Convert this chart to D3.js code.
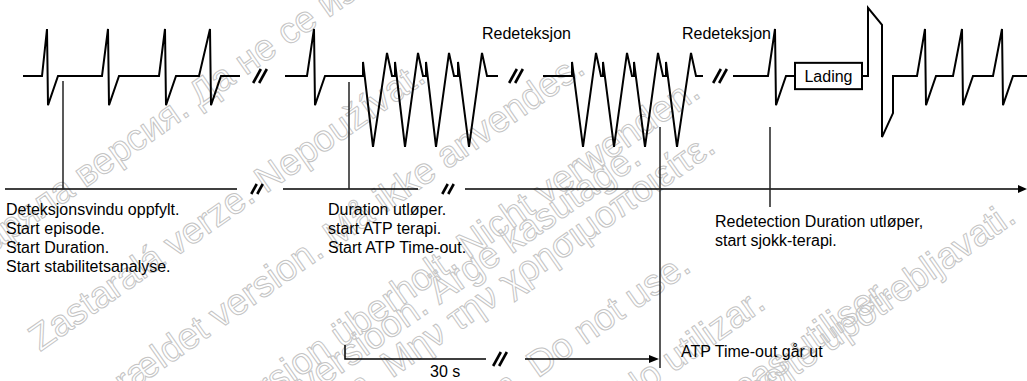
<!DOCTYPE html>
<html><head><meta charset="utf-8">
<script src="https://cdn.jsdelivr.net/npm/d3@7"></script>
<style>html,body{margin:0;padding:0;background:#fff;}svg{display:block;font-family:"Liberation Sans",Arial,sans-serif;}</style>
</head><body>
<script>
// ---------- data ----------
const seg1Onsets = [42, 102, 159, 199];
const seg1Peaks  = [47, 108, 165, 210];
const seg1Range  = [23, 240];
const seg2Onsets = [307];
const seg2Peaks  = [314];
const seg2Range  = [285, 363];
const tachy1Ticks   = [363, 395, 426, 458];
const tachy1Troughs = [373, 405, 436, 469];
const tachy1Peaks   = [387, 418, 449, 482];
const tachy1End     = 498;
const seg3Start     = 543;
const tachy2Ticks   = [572, 603, 634, 666];
const tachy2Troughs = [583, 614, 645, 677];
const tachy2Peaks   = [596, 627, 658, 691];
const tachy2End     = 703;
const seg4Onsets = [768];
const seg4Peaks  = [775];
const seg4Start  = 733;
const chargeBox  = [795, 862];
const shockTimes = [868, 882, 893];
const postOnsets = [917, 953, 993];
const postPeaks  = [925, 962, 1002];
const traceEnd   = 1027;
const amp = {rPeak: 1, sWave: -0.62, vtPeak: 0.49, vtTick: 0.30, vtTrough: -1.51,
             shockTop: 1.45, shockShoulder: 1.09, shockBottom: -1.30, shockRecover: -0.79};
const breaksTop = [260, 516, 720];
const breaksAxis = [257, 448];
const axisSegments = [[5, 237], [283, 418], [465, 1027]];
const markerTimes = [63, 349, 660, 770];
const markerTops  = [81, 82, 127, 127];
const markerEnds  = [189, 189, 368, 207];
const redetectLabels = [["Redeteksjon", 482], ["Redeteksjon", 682]];
const noteBlocks = [
  {x: 6,   lines: ["Deteksjonsvindu oppfylt.", "Start episode.", "Start Duration.", "Start stabilitetsanalyse."]},
  {x: 328, lines: ["Duration utløper.", "start ATP terapi.", "Start ATP Time-out."]},
  {x: 715, lines: ["Redetection Duration utløper,", "start sjokk-terapi."], dy: 12}
];
const timeoutBracket = {start: 345, breakAt: 500, arrowFrom: 525, end: 659, label: "30 s", note: "ATP Time-out går ut"};
const watermarks = [
  ["Остаряла версия. Да не се използва.", -60, 290],
  ["Zastaralá verze. Nepoužívat.", 40, 352],
  ["Forældet version. Må ikke anvendes.", 90, 420],
  ["Version überholt. Nicht verwenden.", 232, 425],
  ["Aegunud versioon. Ärge kasutage.", 178, 488],
  ["Παλιά έκδοση. Μην την χρησιμοποιείτε.", 190, 520],
  ["Outdated version. Do not use.", 290, 552],
  ["Versión obsoleta. No utilizar.", 385, 575],
  ["Version périmée. Ne pas utiliser.", 460, 600],
  ["Zastarjela verzija. Nemojte upotrebljavati.", 462, 610]
];

// ---------- scales ----------
const W = 1027, H = 381;
const x = d3.scaleLinear().domain([0, 1027]).range([0, 1027]);
const y = d3.scaleLinear().domain([-1, 1]).range([123, 29]);   // baseline (0) at 76
const yAxis = 189, yBracket = 359;

const svg = d3.select("body").append("svg").attr("width", W).attr("height", H);

// watermark (outlined light grey text)
const wm = svg.append("g").attr("fill", "none").attr("stroke", "#c4c4c4").attr("stroke-width", 1)
  .style("font-size", "37px");
watermarks.forEach(([t, wx, wy]) => {
  wm.append("text").attr("transform", `translate(${wx},${wy}) rotate(-35)`).text(t);
});

// ---------- waveform ----------
function beats(pts, onsets, peaks) {
  onsets.forEach((o, i) => {
    const p = peaks[i];
    pts.push([o, 0], [p, amp.rPeak], [p + 1, amp.sWave], [p + 11, 0]);
  });
}
function tachy(pts, ticks, troughs, peaks, end) {
  ticks.forEach((t, i) => {
    pts.push([t, 0], [t, amp.vtTick], [troughs[i], amp.vtTrough], [peaks[i], amp.vtPeak], [peaks[i] + 5, 0]);
  });
  pts.push([end, 0]);
}
const line = d3.line().x(d => x(d[0])).y(d => y(d[1]));
const traces = [];
{ const p = [[seg1Range[0], 0]]; beats(p, seg1Onsets, seg1Peaks); p.push([seg1Range[1], 0]); traces.push(p); }
{ const p = [[seg2Range[0], 0]]; beats(p, seg2Onsets, seg2Peaks); tachy(p, tachy1Ticks, tachy1Troughs, tachy1Peaks, tachy1End); traces.push(p); }
{ const p = [[seg3Start, 0]]; tachy(p, tachy2Ticks, tachy2Troughs, tachy2Peaks, tachy2End); traces.push(p); }
{ const p = [[seg4Start, 0]]; beats(p, seg4Onsets, seg4Peaks); p.push([chargeBox[0], 0]); traces.push(p); }
{ const p = [[chargeBox[1], 0], [shockTimes[0], 0], [shockTimes[0], amp.shockTop], [shockTimes[1], amp.shockShoulder],
             [shockTimes[1], amp.shockBottom], [shockTimes[2], amp.shockRecover], [shockTimes[2], 0]];
  beats(p, postOnsets, postPeaks); p.push([traceEnd, 0]); traces.push(p); }

svg.append("g").selectAll("path").data(traces).join("path")
  .attr("d", line).attr("fill", "none").attr("stroke", "#000").attr("stroke-width", 2).attr("stroke-linejoin", "miter");

// charge box
svg.append("rect").attr("x", x(chargeBox[0])).attr("y", y(0.28)).attr("width", x(chargeBox[1]) - x(chargeBox[0]))
  .attr("height", y(-0.28) - y(0.28)).attr("fill", "#fff").attr("stroke", "#000").attr("stroke-width", 2);
svg.append("text").attr("x", x((chargeBox[0] + chargeBox[1]) / 2)).attr("y", y(0) + 6).attr("text-anchor", "middle")
  .style("font-size", "16px").text("Lading");

// break marks
function brk(cx, cy, h) {
  const g = svg.append("g").attr("stroke", "#000").attr("stroke-width", 2.6);
  [-3, 3].forEach(dx => g.append("line").attr("x1", cx + dx - h * 0.55).attr("y1", cy + h).attr("x2", cx + dx + h * 0.55).attr("y2", cy - h));
}
breaksTop.forEach(b => brk(x(b), y(0), 7));

// redetection labels
svg.selectAll(".rd").data(redetectLabels).join("text").attr("x", d => x(d[1])).attr("y", 39)
  .style("font-size", "16px").text(d => d[0]);

// time axis
svg.append("g").selectAll("line").data(axisSegments).join("line")
  .attr("x1", d => x(d[0])).attr("x2", (d, i) => i === axisSegments.length - 1 ? x(d[1]) - 6 : x(d[1]))
  .attr("y1", yAxis).attr("y2", yAxis).attr("stroke", "#000").attr("stroke-width", 1.6);
svg.append("path").attr("d", `M${x(1027)},${yAxis} L${x(1027) - 9},${yAxis - 4} L${x(1027) - 9},${yAxis + 4} Z`).attr("fill", "#000");
breaksAxis.forEach(b => brk(x(b), yAxis, 5));

// marker lines
svg.append("g").selectAll("line").data(markerTimes).join("line")
  .attr("x1", d => x(d)).attr("x2", d => x(d)).attr("y1", (d, i) => markerTops[i]).attr("y2", (d, i) => markerEnds[i])
  .attr("stroke", "#222").attr("stroke-width", 1.5);

// notes
noteBlocks.forEach(b => {
  const t = svg.append("text").attr("x", b.x).attr("y", 215 + (b.dy || 0)).style("font-size", "16px");
  b.lines.forEach((l, i) => t.append("tspan").attr("x", b.x).attr("dy", i ? 19 : 0).text(l));
});

// timeout bracket
const tb = timeoutBracket;
svg.append("path").attr("d", `M${x(tb.start)},${yBracket - 14} L${x(tb.start)},${yBracket} L${x(tb.breakAt - 14)},${yBracket}`)
  .attr("fill", "none").attr("stroke", "#000").attr("stroke-width", 1.5);
svg.append("line").attr("x1", x(tb.arrowFrom)).attr("x2", x(tb.end) - 8).attr("y1", yBracket).attr("y2", yBracket)
  .attr("stroke", "#000").attr("stroke-width", 1.5);
svg.append("path").attr("d", `M${x(tb.end)},${yBracket} L${x(tb.end) - 10},${yBracket - 4} L${x(tb.end) - 10},${yBracket + 4} Z`).attr("fill", "#000");
brk(x(tb.breakAt), yBracket, 7);
svg.append("text").attr("x", x(430)).attr("y", 377).style("font-size", "16px").text(tb.label);
svg.append("text").attr("x", x(681)).attr("y", 357).style("font-size", "16px").text(tb.note);
</script>
</body></html>
